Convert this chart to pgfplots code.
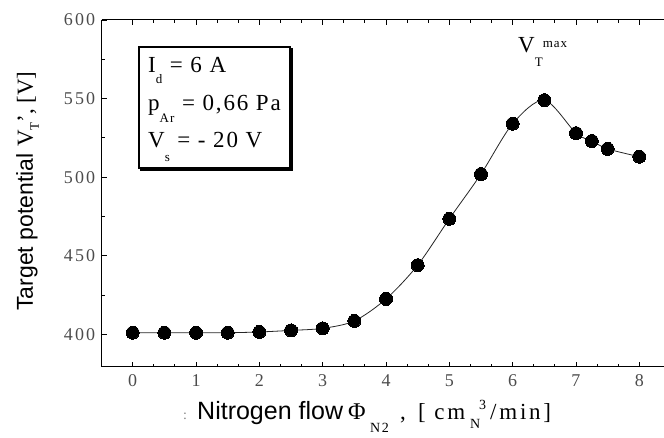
\documentclass[border=0pt]{standalone}
\usepackage{pgfplots}
\pgfplotsset{compat=1.18}
\usepackage{fontspec}
\setmainfont{Liberation Serif}
\setsansfont{Liberation Sans}
\newfontfamily\tickfont[LetterSpace=12]{Liberation Serif}
\newfontfamily\boxfont[LetterSpace=8]{Liberation Serif}
\newfontfamily\unitfont[LetterSpace=12]{Liberation Serif}

\definecolor{tickgray}{gray}{0.3}

% low-set subscripts in the style of the annotation box
\newcommand{\lowsub}[2][8pt]{\raisebox{-#1}{\fontsize{13}{13}\selectfont #2}}

\begin{document}
\begin{tikzpicture}
\begin{axis}[
  name=ax,
  scale only axis,
  width=562.3pt, height=346.7pt,
  xmin=-0.49, xmax=8.39,
  ymin=379.4, ymax=600,
  axis x line*=box, axis y line*=left,
  x axis line style={-}, y axis line style={-},
  axis line style={line width=1pt, black},
  xtick={0,1,...,8}, ytick={400,450,...,600},
  minor x tick num=2, minor y tick num=1,
  ytick pos=left,
  tick align=inside,
  major tick length=5pt, minor tick length=3pt,
  every tick/.style={black, line width=0.9pt},
  /pgf/number format/assume math mode=true,
  xticklabel style={font=\tickfont\fontsize{18}{18}\selectfont, text=tickgray, yshift=-4pt},
  yticklabel style={font=\tickfont\fontsize{18}{18}\selectfont, text=tickgray, xshift=-3pt},
  clip=false,
]
\addplot[black!85, line width=0.8pt, smooth, tension=0.5,
  mark=*, mark size=6.5pt, mark options={fill=black, draw=black, line width=0pt}]
  coordinates {
  (0,401) (0.5,401) (1,401) (1.5,401) (2,401.5) (2.5,402.5) (3,403.8)
  (3.5,408.5) (4,422.5) (4.5,444) (5,473.5) (5.5,502) (6,534) (6.5,549)
  (7,528) (7.25,523) (7.5,518) (8,513)
  };
\end{axis}

\coordinate (O) at ([shift={(-101.7pt,20pt)}]ax.north west);
\begin{scope}[shift={(O)}, x=1pt, y=-1pt]
  % annotation box with a slight shadow
  \draw[black, line width=1.6pt] (141,49) rectangle (292,170);
  \draw[black, fill=white, line width=1.3pt] (139,47) rectangle (290,168);
  \node[anchor=base west, inner sep=0pt] at (148,73)
    {\boxfont\fontsize{23}{23}\selectfont I\lowsub[11pt]{d} = 6 A};
  \node[anchor=base west, inner sep=0pt] at (148,110.7)
    {\boxfont\fontsize{23}{23}\selectfont p\lowsub[12pt]{Ar} = 0,66 Pa};
  \node[anchor=base west, inner sep=0pt] at (148,147.3)
    {\boxfont\fontsize{23}{23}\selectfont V\lowsub[14pt]{s} = - 20 V};
  % peak label
  \node[anchor=base west, inner sep=0pt] at (518,53)
    {\boxfont\fontsize{23}{23}\selectfont V\lowsub[14pt]{T}\raisebox{5pt}{\fontsize{13}{13}\selectfont max}};
  % y label
  \node[rotate=90, anchor=base, inner sep=0pt] at (33,191)
    {\fontsize{23}{23}\selectfont\sffamily Target potential {\rmfamily V\raisebox{-6pt}{\fontsize{13}{13}\selectfont T}', [V]}};
  % x label, set piece by piece
  \node[anchor=base west, inner sep=0pt, text=gray] at (183,420)
    {\fontsize{14}{14}\selectfont :};
  \node[anchor=base west, inner sep=0pt] at (197,420)
    {\fontsize{25}{25}\selectfont\sffamily Nitrogen flow};
  \node[anchor=base west, inner sep=0pt] at (348,420)
    {\fontsize{24}{24}\selectfont\rmfamily Φ};
  \node[anchor=base west, inner sep=0pt] at (370,433)
    {\unitfont\fontsize{14}{14}\selectfont N2};
  \node[anchor=base west, inner sep=0pt] at (400,420)
    {\unitfont\fontsize{23}{23}\selectfont ,};
  \node[anchor=base west, inner sep=0pt] at (418,420)
    {\unitfont\fontsize{23}{23}\selectfont [ cm};
  \node[anchor=base west, inner sep=0pt] at (479,410)
    {\fontsize{14}{14}\selectfont 3};
  \node[anchor=base west, inner sep=0pt] at (470,429)
    {\fontsize{14}{14}\selectfont N};
  \node[anchor=base west, inner sep=0pt] at (490,420)
    {\unitfont\fontsize{23}{23}\selectfont /min]};
\end{scope}
\pgfresetboundingbox
\path[use as bounding box] (O) rectangle ++(664pt,-438pt);
\end{tikzpicture}
\end{document}
